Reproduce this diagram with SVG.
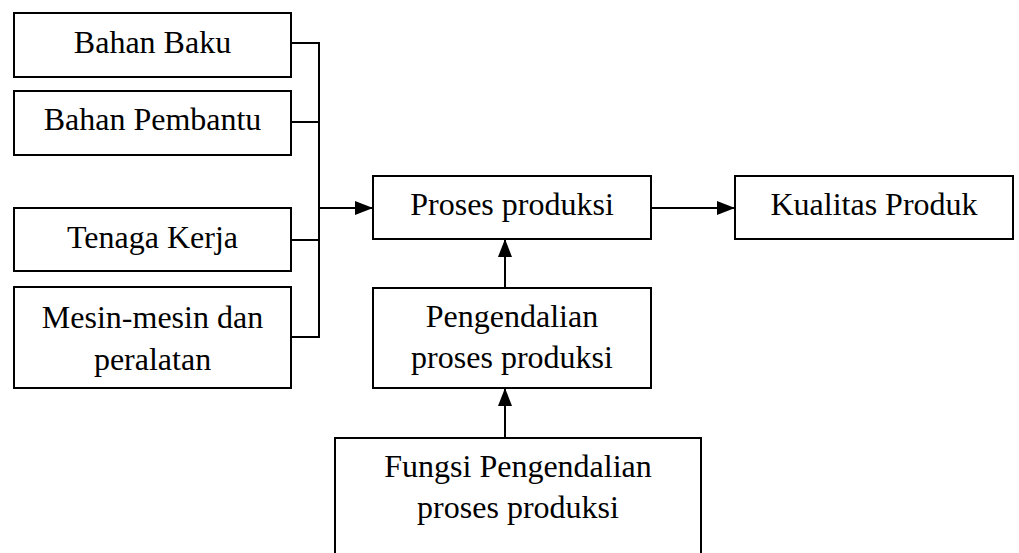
<svg xmlns="http://www.w3.org/2000/svg" width="1019" height="553" viewBox="0 0 1019 553">
<style>
.box{fill:#fff;stroke:#000;stroke-width:2}
.t{font-family:"Liberation Serif","Times New Roman",serif;font-size:32px;fill:#000;text-anchor:middle}
.c{fill:none;stroke:#000;stroke-width:2}
</style>
<defs>
<marker id="ah" markerUnits="userSpaceOnUse" markerWidth="20" markerHeight="16" refX="18" refY="7" orient="auto">
<path d="M0,0 L18,7 L0,14 Z" fill="#000"/>
</marker>
</defs>
<rect width="1019" height="553" fill="#fff"/>
<g id="connectors">
<path class="c" d="M291,43 H319 V337 H291"/>
<path class="c" d="M291,122 H319"/>
<path class="c" d="M291,240 H319"/>
<path class="c" d="M319,208 H373" marker-end="url(#ah)"/>
<path class="c" d="M651,208 H735" marker-end="url(#ah)"/>
<path class="c" d="M505,288 V239" marker-end="url(#ah)"/>
<path class="c" d="M505,438 V388" marker-end="url(#ah)"/>
</g>
<g id="bahan-baku">
<rect class="box" x="14" y="13" width="277" height="64"/>
<text class="t" x="152.5" y="53">Bahan Baku</text>
</g>
<g id="bahan-pembantu">
<rect class="box" x="14" y="91" width="277" height="64"/>
<text class="t" x="152.5" y="130">Bahan Pembantu</text>
</g>
<g id="tenaga-kerja">
<rect class="box" x="14" y="208" width="277" height="63"/>
<text class="t" x="152.5" y="248">Tenaga Kerja</text>
</g>
<g id="mesin">
<rect class="box" x="14" y="287" width="277" height="101"/>
<text class="t" x="152.5" y="328">Mesin-mesin dan</text>
<text class="t" x="152.5" y="370">peralatan</text>
</g>
<g id="proses-produksi">
<rect class="box" x="373" y="176" width="278" height="63"/>
<text class="t" x="512" y="215">Proses produksi</text>
</g>
<g id="kualitas-produk">
<rect class="box" x="735" y="176" width="278" height="63"/>
<text class="t" x="874" y="215">Kualitas Produk</text>
</g>
<g id="pengendalian">
<rect class="box" x="373" y="288" width="278" height="100"/>
<text class="t" x="512" y="327">Pengendalian</text>
<text class="t" x="512" y="368">proses produksi</text>
</g>
<g id="fungsi-pengendalian">
<rect class="box" x="335" y="438" width="366" height="130"/>
<text class="t" x="518" y="477">Fungsi Pengendalian</text>
<text class="t" x="518" y="518">proses produksi</text>
</g>
</svg>
